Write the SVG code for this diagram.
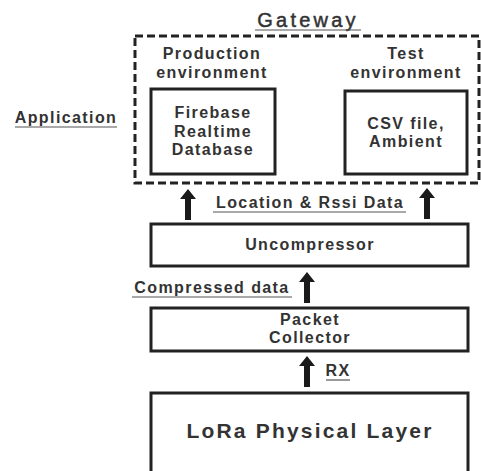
<svg xmlns="http://www.w3.org/2000/svg" width="481" height="471" viewBox="0 0 481 471">
<defs>
<style>
.box{fill:#fff;stroke:#222;stroke-width:3}
.dash{fill:none;stroke:#222;stroke-width:3;stroke-dasharray:8 4}
.t{font-family:"Liberation Sans",Arial,sans-serif;font-weight:bold;fill:#333;text-anchor:middle}
.s15{font-size:16px;letter-spacing:1.4px}
.ul{stroke:#555;stroke-width:1.2}
.arr{fill:#1a1a1a}
</style>
<path id="arrow" d="M0,0 L8,10 L3,10 L3,31 L-3,31 L-3,10 L-8,10 Z"/>
</defs>
<rect width="481" height="471" fill="#fff"/>
<g id="gateway">
<rect class="dash" x="135" y="36" width="344" height="147"/>
<text class="t" x="308" y="27" style="font-size:20px;font-weight:normal;letter-spacing:3.2px;stroke:#333;stroke-width:0.5">Gateway</text>
<line class="ul" x1="255" y1="30" x2="361" y2="30"/>
</g>
<g id="application">
<text class="t s15" x="66" y="123">Application</text>
<line class="ul" x1="15" y1="127" x2="117" y2="127"/>
</g>
<g id="production">
<text class="t s15" x="212" y="59">Production</text>
<text class="t s15" x="212" y="78">environment</text>
</g>
<g id="test">
<text class="t s15" x="406" y="59">Test</text>
<text class="t s15" x="406" y="78">environment</text>
</g>
<g id="firebase">
<rect class="box" x="151" y="89" width="124" height="85"/>
<text class="t s15" x="213" y="118">Firebase</text>
<text class="t s15" x="213" y="137">Realtime</text>
<text class="t s15" x="213" y="155">Database</text>
</g>
<g id="csv">
<rect class="box" x="345" y="91" width="122" height="83"/>
<text class="t s15" x="406" y="129">CSV file,</text>
<text class="t s15" x="406" y="147">Ambient</text>
</g>
<g id="uncompressor">
<rect class="box" x="151" y="224" width="317" height="42"/>
<text class="t s15" x="310" y="250">Uncompressor</text>
</g>
<g id="packet">
<rect class="box" x="151" y="308" width="317" height="43"/>
<text class="t s15" x="310" y="325">Packet</text>
<text class="t s15" x="310" y="343">Collector</text>
</g>
<g id="lora">
<rect class="box" x="151" y="393" width="317" height="90"/>
<text class="t" x="310" y="438" style="font-size:21px;letter-spacing:2.2px">LoRa Physical Layer</text>
</g>
<g id="connectors">
<use href="#arrow" class="arr" x="188" y="189"/>
<use href="#arrow" class="arr" x="427" y="188"/>
<use href="#arrow" class="arr" x="307" y="272"/>
<use href="#arrow" class="arr" x="307" y="356"/>
<text class="t s15" x="310" y="208">Location &amp; Rssi Data</text>
<line class="ul" x1="213" y1="212" x2="406" y2="212"/>
<text class="t s15" x="212" y="293">Compressed data</text>
<line class="ul" x1="132" y1="297" x2="292" y2="297"/>
<text class="t s15" x="338" y="376">RX</text>
<line class="ul" x1="326" y1="380" x2="350" y2="380"/>
</g>
</svg>
